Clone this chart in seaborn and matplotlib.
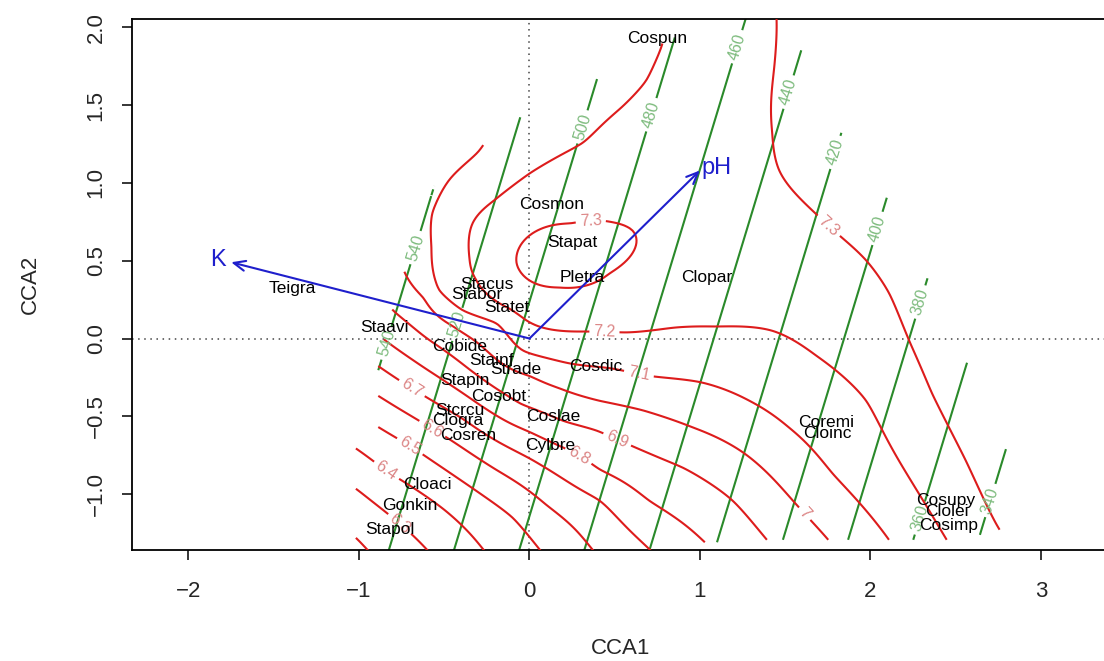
import numpy as np
import matplotlib
matplotlib.use("Agg")
import matplotlib.pyplot as plt
from matplotlib.path import Path
from matplotlib.ticker import FuncFormatter
import seaborn as sns

# ---- species scores (CCA1, CCA2) ----
species = ["Cospun", "Cosmon", "Stapat", "Pletra", "Clopar", "Stacus", "Stabor",
           "Statet", "Teigra", "Staavi", "Cobide", "Stainf", "Strade", "Cosdic",
           "Stapin", "Cosobt", "Stcrcu", "Clogra", "Cosren", "Coslae", "Cylbre",
           "Cloaci", "Gonkin", "Stapol", "Coremi", "Cloinc", "Cosupy", "Clolei", "Cosimp"]
sp_x = [0.75, 0.13, 0.25, 0.31, 1.04, -0.25, -0.31, -0.13, -1.39, -0.85, -0.41, -0.22,
        -0.08, 0.39, -0.38, -0.18, -0.41, -0.42, -0.36, 0.14, 0.12, -0.60, -0.70, -0.82,
        1.74, 1.75, 2.44, 2.45, 2.46]
sp_y = [1.93, 0.86, 0.62, 0.39, 0.39, 0.35, 0.28, 0.20, 0.32, 0.07, -0.05, -0.14,
        -0.20, -0.18, -0.27, -0.37, -0.46, -0.53, -0.62, -0.50, -0.69, -0.94, -1.07, -1.23,
        -0.54, -0.61, -1.04, -1.11, -1.20]

# ---- environmental biplot arrows ----
env_names = ["K", "pH"]
env_x = [-1.75, 1.0]
env_y = [0.49, 1.08]
env_lab_x = [-1.83, 1.10]
env_lab_y = [0.505, 1.095]

# ---- K surface: contour label positions and their values ----
k_lab_val = [540, 540, 520, 500, 480, 460, 440, 420, 400, 380, 360, 340]
k_lab_x = [-0.674, -0.835, -0.42, 0.31, 0.72, 1.22, 1.518, 1.788, 2.04, 2.30, 2.28, 2.71]
k_lab_y = [0.586, -0.03, 0.09, 1.36, 1.436, 1.874, 1.584, 1.198, 0.708, 0.232, -1.15, -1.043]

# ---- pH surface: points ----
ph_73_loop = [(0.246, 0.74), (0.018, 0.676), (-0.059, 0.586), (-0.076, 0.483), (0.0, 0.373),
              (0.176, 0.328), (0.334, 0.341), (0.469, 0.418), (0.586, 0.521), (0.627, 0.611),
              (0.604, 0.695), (0.487, 0.747)]
ph_73_right = [(1.45, 2.0), (1.436, 1.745), (1.424, 1.32), (1.465, 1.08), (1.658, 0.824),
               (1.817, 0.663), (1.975, 0.502), (2.11, 0.29), (2.227, -0.013), (2.362, -0.354),
               (2.56, -0.786), (2.737, -1.19)]
ph_72 = [(0.774, 1.874), (0.686, 1.66), (0.545, 1.49), (0.311, 1.256), (0.0, 1.06),
         (-0.205, 0.889), (-0.334, 0.74), (-0.352, 0.52), (-0.31, 0.373), (-0.176, 0.225),
         (-0.018, 0.116), (0.1, 0.064), (0.334, 0.045), (0.569, 0.039), (0.85, 0.07),
         (1.096, 0.077), (1.424, 0.05), (1.682, -0.11), (1.975, -0.40), (2.07, -0.59),
         (2.286, -1.0), (2.44, -1.28)]
ph_71 = [(-0.30, 1.20), (-0.47, 1.02), (-0.57, 0.807), (-0.575, 0.588), (-0.53, 0.31),
         (-0.39, 0.18), (-0.19, 0.096), (-0.04, -0.077), (0.235, -0.16), (0.47, -0.19),
         (0.70, -0.24), (1.0, -0.28), (1.29, -0.40), (1.52, -0.57), (1.78, -0.87), (2.10, -1.28)]
ph_70 = [(-0.73, 0.42), (-0.62, 0.26), (-0.45, 0.08), (-0.25, -0.08), (0.0, -0.24),
         (0.176, -0.32), (0.41, -0.40), (0.66, -0.46), (0.955, -0.57), (1.25, -0.73),
         (1.56, -1.06), (1.75, -1.29)]
ph_69 = [(-0.80, 0.18), (-0.6, 0.0), (-0.35, -0.2), (-0.05, -0.42), (0.2, -0.53), (0.39, -0.59),
         (0.60, -0.69), (0.90, -0.83), (1.19, -1.04), (1.39, -1.29)]
ph_68 = [(-0.86, 0.0), (-0.6, -0.2), (-0.3, -0.42), (0.0, -0.6), (0.29, -0.75), (0.41, -0.84),
         (0.70, -1.04), (1.01, -1.29)]
ph_67 = [(-0.87, -0.19), (-0.69, -0.32), (-0.4, -0.51), (0.0, -0.77), (0.41, -1.04), (0.70, -1.35)]
ph_66 = [(-0.87, -0.38), (-0.57, -0.58), (-0.2, -0.84), (0.1, -1.07), (0.38, -1.37)]
ph_65 = [(-0.87, -0.58), (-0.70, -0.69), (-0.35, -0.95), (-0.1, -1.15), (0.07, -1.37)]
ph_64 = [(-1.0, -0.72), (-0.84, -0.85), (-0.5, -1.1), (-0.26, -1.37)]
ph_63 = [(-1.0, -0.98), (-0.76, -1.19), (-0.59, -1.37)]
ph_62 = [(-1.0, -1.30), (-0.94, -1.37)]
# spot values read between the contours (x, y, pH)
ph_spots = [(0.28, 0.55, 7.35), (1.0, 0.6, 7.27), (1.15, 1.2, 7.28), (0.95, 1.6, 7.25),
            (2.0, 1.2, 7.36), (2.4, 0.4, 7.37), (2.75, -0.5, 7.38), (3.0, -1.0, 7.39),
            (-0.65, 0.85, 7.05), (0.2, 1.55, 7.17)]

ph_lab_x = [0.36, 1.76, 0.44, 0.645, 1.62, 0.51, 0.29, -0.69, -0.57, -0.70, -0.84, -0.76]
ph_lab_y = [0.75, 0.73, 0.05, -0.21, -1.12, -0.66, -0.75, -0.32, -0.58, -0.69, -0.85, -1.19]

# ---- sampled region (hull of site scores) ----
hull_x = [-1.02, -1.02, -0.89, -0.89, -0.81, -0.74, -0.57, -0.30, -0.06, 0.39, 0.80, 1.45,
          1.60, 1.84, 2.11, 2.35, 2.58, 2.81, 3.06, 2.70, 2.45, 1.0, 0.75]
hull_y = [-1.50, -0.68, -0.58, -0.15, 0.19, 0.43, 0.98, 1.22, 1.43, 1.67, 1.92, 2.25,
          1.87, 1.32, 0.90, 0.38, -0.16, -0.72, -1.05, -1.27, -1.30, -1.31, -1.50]

# ---------------------------------------------------------------
def tps_surface(px, py, pz, gx, gy, smooth=1e-3):
    n = len(px)
    d = np.hypot(px[:, None] - px[None, :], py[:, None] - py[None, :])
    K = d ** 2 * np.log(np.maximum(d, 1e-12))
    P = np.column_stack([np.ones(n), px, py])
    A = np.zeros((n + 3, n + 3))
    A[:n, :n] = K + smooth * np.eye(n)
    A[:n, n:] = P
    A[n:, :n] = P.T
    sol = np.linalg.solve(A, np.concatenate([pz, np.zeros(3)]))
    w, a = sol[:n], sol[n:]
    fx, fy = gx.ravel(), gy.ravel()
    dg = np.hypot(fx[:, None] - px[None, :], fy[:, None] - py[None, :])
    Kg = dg ** 2 * np.log(np.maximum(dg, 1e-12))
    return (Kg @ w + a[0] + a[1] * fx + a[2] * fy).reshape(gx.shape)


traces = [(7.3, ph_73_loop), (7.3, ph_73_right), (7.2, ph_72), (7.1, ph_71), (7.0, ph_70),
          (6.9, ph_69), (6.8, ph_68), (6.7, ph_67), (6.6, ph_66), (6.5, ph_65),
          (6.4, ph_64), (6.3, ph_63), (6.2, ph_62)]
px, py, pz = [], [], []
for lev, pts in traces:
    for x, y in pts:
        px.append(x); py.append(y); pz.append(lev)
for x, y, v in ph_spots:
    px.append(x); py.append(y); pz.append(v)
px, py, pz = np.array(px), np.array(py), np.array(pz)

gx, gy = np.meshgrid(np.linspace(-1.1, 3.15, 260), np.linspace(-1.5, 2.3, 240))
inside = Path(np.column_stack([hull_x, hull_y])).contains_points(
    np.column_stack([gx.ravel(), gy.ravel()])).reshape(gx.shape)

ph_grid = np.ma.masked_where(~inside, tps_surface(px, py, pz, gx, gy))

# K: plane fitted through the label positions
B = np.column_stack([np.ones(len(k_lab_x)), k_lab_x, k_lab_y])
coef, *_ = np.linalg.lstsq(B, np.array(k_lab_val, float), rcond=None)
k_grid = np.ma.masked_where(~inside, coef[0] + coef[1] * gx + coef[2] * gy)

# ---------------------------------------------------------------
sns.set_theme(style="white")
plt.rcParams['font.family'] = ['Liberation Sans', 'DejaVu Sans']
plt.rcParams['axes.unicode_minus'] = True

fig = plt.figure(figsize=(11.04, 6.61), dpi=100)
ax = fig.add_axes([0.1193, 0.1679, 0.8861, 0.8029])
ax.set_xlim(-2.333, 3.405)
ax.set_ylim(-1.359, 2.051)

ax.axhline(0, color="#444444", ls=(0, (1, 3)), lw=1.1, zorder=1)
ax.axvline(0, color="#444444", ls=(0, (1, 3)), lw=1.1, zorder=1)

fmt = lambda v: f"{v:g}"

cs_k = ax.contour(gx, gy, k_grid, levels=np.arange(340, 541, 20),
                  colors="#2a8a2a", linewidths=1.5, zorder=2)
ax.clabel(cs_k, manual=list(zip(k_lab_x, k_lab_y)), inline=True, inline_spacing=4,
          fontsize=11.5, colors="#7dbb7d", fmt=fmt)

ph_levels = np.round(np.arange(6.2, 7.35, 0.1), 1)
cs_ph = ax.contour(gx, gy, ph_grid, levels=ph_levels,
                   colors="#dd1c1c", linewidths=1.5, zorder=3)
ax.clabel(cs_ph, manual=list(zip(ph_lab_x, ph_lab_y)), inline=True, inline_spacing=4,
          fontsize=11.5, colors="#dc8585", fmt=fmt)

blue = "#1f1fcc"
for name, x, y, lx, ly in zip(env_names, env_x, env_y, env_lab_x, env_lab_y):
    ax.annotate("", xy=(x, y), xytext=(0, 0),
                arrowprops=dict(arrowstyle="->,head_length=0.7,head_width=0.3",
                                color=blue, lw=1.5, shrinkA=0, shrinkB=0), zorder=4)
    ax.text(lx, ly, name, color=blue, fontsize=17, ha="center", va="center", zorder=5)

for name, x, y in zip(species, sp_x, sp_y):
    ax.text(x, y, name, fontsize=12.5, ha="center", va="center", color="black", zorder=6)

ax.set_xticks([-2, -1, 0, 1, 2, 3])
ax.set_yticks([-1.0, -0.5, 0.0, 0.5, 1.0, 1.5, 2.0])
ax.xaxis.set_major_formatter(FuncFormatter(lambda v, p: f"{v:g}".replace("-", "\u2212")))
ax.yaxis.set_major_formatter(FuncFormatter(lambda v, p: f"{v:.1f}".replace("-", "\u2212")))
ax.tick_params(axis="both", direction="out", length=7, width=1.1, color="black",
               labelsize=16, bottom=True, left=True)
ax.tick_params(axis="x", pad=15)
ax.tick_params(axis="y", pad=11)
for lab in ax.get_yticklabels():
    lab.set_rotation(90)
    lab.set_va("center")

for sp in ax.spines.values():
    sp.set_color("black")
    sp.set_linewidth(1.3)

ax.set_xlabel("CCA1", fontsize=16, va="center")
ax.set_ylabel("CCA2", fontsize=16, va="center")
ax.xaxis.set_label_coords(0.5, -0.185)
ax.yaxis.set_label_coords(-0.104, 0.5)

fig.savefig("out.png", dpi=100)
